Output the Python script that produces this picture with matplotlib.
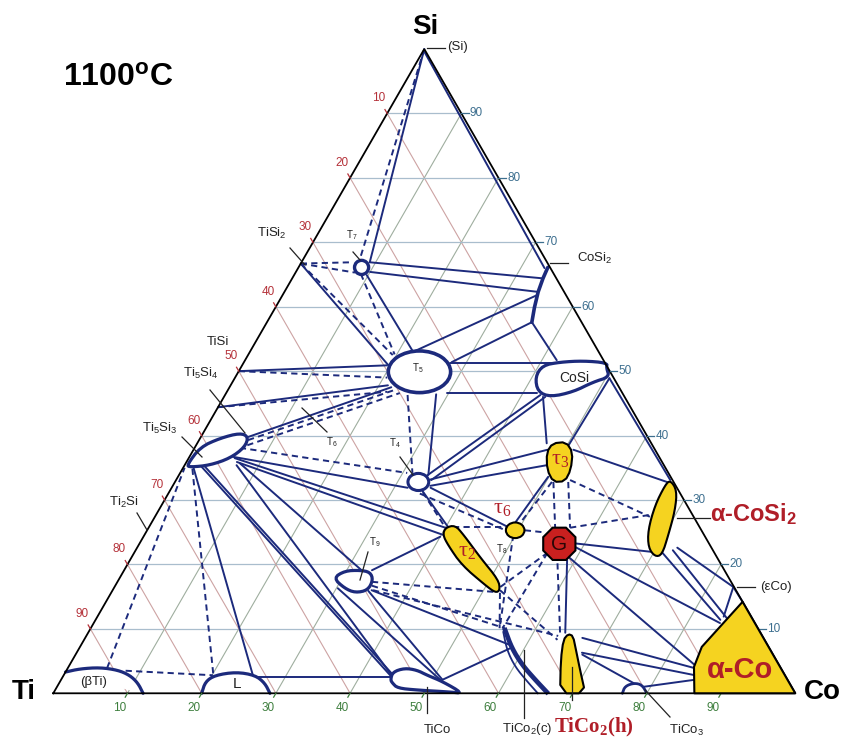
import numpy as np
import matplotlib
matplotlib.use("Agg")
import matplotlib.pyplot as plt
from matplotlib.patches import Polygon, Ellipse, RegularPolygon
from matplotlib.lines import Line2D

plt.rcParams['font.family'] = ['Liberation Sans', 'DejaVu Sans']
plt.rcParams['mathtext.fontset'] = 'custom'
plt.rcParams['mathtext.rm'] = 'Liberation Sans'
plt.rcParams['mathtext.it'] = 'Liberation Sans:italic'
plt.rcParams['mathtext.bf'] = 'Liberation Sans:bold'

# ---------------- data (compositions in at.%: Co, Si) ----------------
ticks = [10, 20, 30, 40, 50, 60, 70, 80, 90]

# solid tie lines (Co1, Si1, Co2, Si2)
ties_si_corner = [
    (0.0, 100.0, 9.2, 66.9), (0.2, 99.6, 33.2, 66.0),
    (9.2, 66.9, 33.8, 64.4), (10.0, 65.4, 34.2, 62.3),
    (22.0, 53.0, 34.3, 61.8), (28.0, 51.4, 35.7, 57.6),
    (35.7, 57.6, 42.0, 51.7), (9.8, 64.9, 22.0, 53.0),
    (0.0, 66.7, 20.1, 50.6), (0.0, 50.0, 19.5, 50.9),
    (0.0, 44.4, 21.2, 47.8), (6.4, 39.8, 21.8, 47.5),
    (27.8, 51.3, 42.7, 51.3), (29.8, 46.6, 41.9, 46.6),
]
ties_mid = [
    (28.4, 46.4, 33.6, 33.9), (5.9, 36.7, 31.8, 31.9),
    (33.4, 33.7, 42.5, 46.3), (34.4, 33.1, 43.3, 46.0),
    (34.0, 33.1, 47.7, 37.8), (34.7, 32.2, 48.8, 35.4),
    (43.0, 46.0, 47.1, 38.8), (50.5, 48.9, 50.2, 38.4),
    (34.9, 31.9, 48.4, 25.8), (33.5, 31.9, 40.2, 25.9),
    (6.2, 36.5, 40.0, 25.7), (6.8, 35.9, 40.2, 24.6),
    (49.9, 33.6, 49.0, 26.4), (7.3, 35.7, 32.0, 19.1),
    (33.4, 19.1, 40.0, 24.3),
]
ties_ti_side = [
    (2.1, 35.4, 44.0, 2.8), (2.7, 35.3, 44.3, 2.9),
    (7.0, 35.4, 44.2, 2.8), (1.1, 35.4, 25.5, 2.8),
    (25.7, 2.5, 44.4, 2.5), (30.2, 16.3, 51.1, 2.1),
    (34.5, 15.9, 51.4, 2.1), (34.9, 16.0, 57.8, 7.5),
    (51.4, 2.1, 58.1, 7.0),
]
ties_co_side = [
    (50.5, 48.9, 66.6, 33.1), (51.2, 37.8, 66.3, 32.8),
    (58.4, 23.3, 70.1, 21.9), (59.0, 22.7, 84.4, 10.9),
    (58.8, 21.2, 84.7, 4.1), (58.9, 20.7, 64.3, 9.4),
    (70.7, 22.2, 84.2, 11.4), (72.4, 22.2, 84.9, 11.7),
    (72.8, 22.6, 83.4, 16.5), (83.4, 16.5, 85.8, 14.2),
    (83.4, 16.5, 84.4, 11.9), (67.0, 8.6, 84.5, 3.9),
    (68.1, 6.3, 85.1, 2.8), (68.3, 6.0, 78.0, 1.3),
    (79.0, 1.0, 85.4, 2.1),
]
# dashed tie lines
dash_si_corner = [
    (0.0, 100.0, 7.6, 67.5), (0.0, 66.7, 6.9, 66.9),
    (0.0, 66.7, 8.0, 65.3), (0.0, 66.7, 19.5, 52.5),
    (8.9, 65.1, 19.7, 52.6), (0.0, 50.0, 20.5, 49.0),
    (0.0, 44.4, 21.6, 46.8), (6.6, 39.3, 22.5, 47.1),
    (6.9, 38.5, 23.4, 46.6),
]
dash_mid = [
    (6.1, 38.1, 30.6, 34.2), (24.6, 46.3, 31.3, 34.2),
    (34.2, 31.2, 40.0, 25.7), (33.9, 31.0, 48.3, 25.3),
    (41.0, 25.8, 48.3, 25.8), (50.9, 25.3, 53.5, 25.0),
    (51.0, 32.8, 55.0, 25.3), (53.0, 32.8, 56.8, 25.7),
    (50.8, 32.8, 49.7, 26.4), (53.1, 33.1, 66.7, 27.4),
    (56.8, 25.7, 66.6, 27.7), (52.0, 16.5, 55.7, 21.8),
]
dash_low = [
    (34.3, 17.3, 51.9, 15.7), (34.6, 16.7, 55.8, 10.1),
    (35.1, 16.0, 63.6, 8.9), (49.7, 24.6, 55.1, 10.1),
    (55.7, 21.8, 55.5, 10.1), (57.0, 21.8, 63.6, 9.4),
    (52.2, 16.0, 63.8, 8.3), (52.4, 15.6, 55.1, 10.1),
    (8.0, 3.5, 20.1, 2.8), (5.3, 3.9, 0.2, 35.0),
    (20.0, 3.1, 1.0, 35.4),
]

# phase outlines (Co, Si)
cosi2_band = [(33.6, 66.1), (33.8, 64.4), (34.2, 62.3), (34.9, 59.9), (35.7, 57.6)]
tico2c_band = [(56.0, 9.8), (58.3, 7.0), (61.0, 4.4), (63.9, 2.1), (66.4, 0.2)]
tico2c_edge = [(55.9, 9.5), (57.8, 6.7), (60.2, 4.1), (63.0, 1.8), (65.3, 0.0)]
ti5si3 = [(0.3, 35.4), (0.7, 38.2), (2.7, 39.6), (5.0, 40.4), (6.4, 39.8),
          (6.7, 38.2), (5.6, 36.5), (3.4, 35.4), (0.9, 35.1)]
cosi = [(40.4, 49.1), (40.5, 50.9), (42.6, 51.4), (45.6, 51.6), (49.0, 51.3),
        (49.3, 50.5), (50.4, 49.1), (48.6, 48.3), (46.7, 46.8), (44.0, 46.0), (41.9, 46.8)]
t9 = [(28.8, 17.9), (29.8, 19.0), (31.8, 19.1), (33.3, 18.8), (34.3, 17.6),
      (34.4, 16.0), (32.9, 15.6), (31.1, 16.3)]
beta_ti = [(0.0, 3.3), (1.7, 3.8), (4.3, 4.0), (6.9, 3.6), (8.9, 2.8), (10.6, 1.6), (12.1, 0.0)]
liquid = [(20.0, 0.0), (19.6, 1.8), (20.4, 2.8), (23.0, 3.3), (25.8, 2.8), (27.7, 1.6), (29.2, 0.0)]
tico = [(44.4, 2.1), (44.1, 3.3), (45.4, 3.9), (47.2, 3.6), (49.0, 2.8), (51.6, 1.8),
        (55.2, 0.0), (53.4, 0.2), (48.8, 0.5), (46.0, 0.8), (44.9, 1.6)]
tico3 = [(76.7, 0.0), (76.5, 1.1), (77.5, 1.6), (78.7, 1.3), (80.0, 0.0)]
t5_center = (24.4, 49.9)
t7_center = (8.5, 66.1)
t4_center = (32.8, 32.8)
tau6_center = (49.6, 25.3)
g_center = (56.6, 23.2)

tau3 = [(47.9, 38.8), (49.6, 39.0), (51.3, 37.4), (52.4, 34.7), (52.5, 32.9),
        (51.0, 32.8), (49.2, 34.7), (47.8, 37.4)]
tau2 = [(40.0, 25.7), (41.1, 26.1), (43.0, 24.6), (47.1, 21.0), (51.2, 17.6),
        (52.2, 16.0), (51.8, 15.6), (49.8, 16.8), (45.1, 19.9), (41.7, 23.0), (40.2, 24.6)]
a_cosi2 = [(66.6, 33.1), (68.3, 31.5), (69.6, 28.4), (70.6, 24.6), (71.3, 21.5),
           (70.5, 21.2), (68.9, 22.6), (67.5, 25.3), (66.5, 29.2), (66.3, 32.3)]
tico2h = [(68.3, 0.0), (65.8, 5.2), (64.6, 8.3), (64.8, 9.2), (65.6, 8.9),
          (67.1, 6.7), (69.2, 3.6), (71.7, 0.0)]
a_co = [(86.4, 0.0), (100.0, 0.0), (85.8, 14.2), (83.8, 7.2), (84.3, 4.1)]

# ---------------- styles ----------------
NAVY = '#1c2a7c'
YEL = '#f5d320'
RED = '#b01e28'
C_SI, C_TI, C_CO = '#a9bdcd', '#cda3a3', '#9fae9f'
H = np.sqrt(3) / 2


def T(co, si):
    co = np.asarray(co, float)
    si = np.asarray(si, float)
    return co + si / 2, si * H


def chaikin(P, n=2, closed=True):
    P = np.asarray(P, float)
    for _ in range(n):
        Q = []
        m = len(P)
        rng = range(m) if closed else range(m - 1)
        if not closed:
            Q.append(P[0])
        for i in rng:
            a, b = P[i], P[(i + 1) % m]
            Q.append(0.75 * a + 0.25 * b)
            Q.append(0.25 * a + 0.75 * b)
        if not closed:
            Q.append(P[-1])
        P = np.array(Q)
    return P


def xy(pts):
    pts = np.asarray(pts, float)
    x, y = T(pts[:, 0], pts[:, 1])
    return np.column_stack([x, y])


fig = plt.figure(figsize=(8.49, 7.38), dpi=100)
ax = fig.add_axes([0, 0, 1, 1])
ax.set_xlim(-7.18, 107.24)
ax.set_ylim(-6.01, 93.19)
ax.axis('off')

# grid
for k in ticks:
    x, y = T([0, 100 - k], [k, k]); ax.plot(x, y, color=C_SI, lw=0.9, zorder=1)
    x, y = T([100 - k, 0], [0, 100 - k]); ax.plot(x, y, color=C_TI, lw=0.8, zorder=1)
    x, y = T([k, k], [0, 100 - k]); ax.plot(x, y, color=C_CO, lw=0.8, zorder=1)

# triangle
x, y = T([0, 100, 0, 0], [0, 0, 100, 0])
ax.plot(x, y, color='black', lw=1.3, zorder=4, solid_joinstyle='miter')

# tick labels
for k in ticks:
    # left edge: Ti at.%
    p = T(0, 100 - k)
    ax.annotate(str(k), xy=p, xytext=(-5.8, 10.8), textcoords='offset points',
                ha='center', va='center', color='#b5323a', fontsize=8.5, zorder=6)
    d = np.array([-0.5, H]) * 0.6
    ax.plot([p[0], p[0] + d[0]], [p[1], p[1] + d[1]], color='#b5323a', lw=0.9, zorder=4)
    # right edge: Si at.%
    p = T(100 - k, k)
    ax.plot([p[0], p[0] + 1.0], [p[1], p[1]], color='#3d6f8f', lw=0.9, zorder=4)
    ax.annotate(str(k), xy=p, xytext=(6.2, 0), textcoords='offset points',
                ha='left', va='center', color='#3d6f8f', fontsize=8.5, zorder=6)
    # bottom: Co at.%
    p = T(k, 0)
    d = np.array([-0.5, -H]) * 0.6
    ax.plot([p[0], p[0] + d[0]], [p[1], p[1] + d[1]], color='#3e7f3e', lw=0.9, zorder=4)
    ax.annotate(str(k), xy=p, xytext=(-5.8, -10.8), textcoords='offset points',
                ha='center', va='center', color='#3e7f3e', fontsize=8.5, zorder=6)

# tie lines
for group in (ties_si_corner, ties_mid, ties_ti_side, ties_co_side):
    for c1, s1, c2, s2 in group:
        x, y = T([c1, c2], [s1, s2])
        ax.plot(x, y, color=NAVY, lw=1.4, zorder=2, solid_capstyle='round')
for group in (dash_si_corner, dash_mid, dash_low):
    for c1, s1, c2, s2 in group:
        x, y = T([c1, c2], [s1, s2])
        ax.plot(x, y, color=NAVY, lw=1.4, zorder=2, dashes=(3.2, 2.2))

# line compounds / bands
P = xy(cosi2_band); ax.plot(P[:, 0], P[:, 1], color=NAVY, lw=2.6, zorder=3, solid_capstyle='round')
P = chaikin(xy(tico2c_band), 2, closed=False); ax.plot(P[:, 0], P[:, 1], color=NAVY, lw=3.4, zorder=3)
P = chaikin(xy(tico2c_edge), 2, closed=False); ax.plot(P[:, 0], P[:, 1], color=NAVY, lw=1.3, zorder=3)


def oval_poly(pts, lw=2.3, smooth=2):
    P = chaikin(xy(pts), smooth)
    ax.add_patch(Polygon(P, closed=True, fc='white', ec=NAVY, lw=lw, zorder=3, joinstyle='round'))


def dome(pts, lw=2.3):
    P = chaikin(xy(pts), 2, closed=False)
    ax.fill(P[:, 0], P[:, 1], color='white', zorder=3)
    ax.plot(P[:, 0], P[:, 1], color=NAVY, lw=lw, zorder=3, solid_capstyle='round')


oval_poly(ti5si3)
oval_poly(cosi)
oval_poly(t9)
oval_poly(tico)
dome(beta_ti)
dome(liquid)
dome(tico3, lw=2.0)
ax.add_patch(Ellipse(T(*t5_center), 8.4, 5.6, fc='white', ec=NAVY, lw=2.6, zorder=3))
ax.add_patch(Ellipse(T(*t7_center), 1.9, 1.9, fc='white', ec=NAVY, lw=2.4, zorder=3))
ax.add_patch(Ellipse(T(*t4_center), 2.8, 2.3, fc='white', ec=NAVY, lw=2.2, zorder=3))

# yellow phases
for shp, sm in ((tau3, 1), (tau2, 2), (a_cosi2, 2), (tico2h, 1)):
    P = chaikin(xy(shp), sm)
    ax.add_patch(Polygon(P, closed=True, fc=YEL, ec='black', lw=1.5, zorder=4, joinstyle='round'))
ax.add_patch(Polygon(xy(a_co), closed=True, fc=YEL, ec='black', lw=1.5, zorder=4, joinstyle='round'))
ax.add_patch(Ellipse(T(*tau6_center), 2.5, 2.1, fc=YEL, ec='black', lw=1.5, zorder=4))
ax.add_patch(RegularPolygon(T(*g_center), 8, radius=2.35, orientation=np.pi / 8,
                            fc='#c9201f', ec='black', lw=1.5, zorder=4))


# ---------------- text & leaders (figure pixel layout) ----------------
def ftxt(x, y, s, ha='center', **kw):
    fig.text(x / 849, 1 - y / 738, s, ha=ha, va='center', zorder=7, **kw)


def lead(p, q, color='#222222', lw=0.9):
    fig.add_artist(Line2D([p[0] / 849, q[0] / 849], [1 - p[1] / 738, 1 - q[1] / 738],
                          transform=fig.transFigure, color=color, lw=lw, zorder=6))


ftxt(118, 78, r'1100$^\mathregular{o}$C', fontsize=23, fontweight='bold')
ftxt(425, 27, 'Si', fontsize=20, fontweight='bold')
ftxt(24, 692, 'Ti', fontsize=20, fontweight='bold')
ftxt(822, 692, 'Co', fontsize=20, fontweight='bold')

K = '#222222'
ftxt(447, 47, '(Si)', ha='left', fontsize=9.5, color=K)
ftxt(577, 258, r'CoSi$_\mathregular{2}$', ha='left', fontsize=9.5, color=K)
ftxt(272, 233, r'TiSi$_\mathregular{2}$', fontsize=9.5, color=K)
ftxt(218, 342, 'TiSi', fontsize=9.5, color=K)
ftxt(201, 373, r'Ti$_\mathregular{5}$Si$_\mathregular{4}$', fontsize=9.5, color=K)
ftxt(160, 428, r'Ti$_\mathregular{5}$Si$_\mathregular{3}$', fontsize=9.5, color=K)
ftxt(124, 502, r'Ti$_\mathregular{2}$Si', fontsize=9.5, color=K)
ftxt(94, 682, '(βTi)', fontsize=9.5, color=K)
ftxt(237, 684, 'L', fontsize=11, color=K)
ftxt(437, 730, 'TiCo', fontsize=9.5, color=K)
ftxt(527, 729, r'TiCo$_\mathregular{2}$(c)', fontsize=9.5, color=K)
ftxt(686, 730, r'TiCo$_\mathregular{3}$', fontsize=9.5, color=K)
ftxt(760, 587, '(εCo)', ha='left', fontsize=9.5, color=K)
ftxt(574, 378, 'CoSi', fontsize=10, color=K)
for (xx, yy, sub) in ((352, 235, '7'), (418, 368, '5'), (332, 442, '6'),
                      (395, 443, '4'), (375, 542, '9'), (502, 549, '8')):
    ftxt(xx, yy, r'T$_\mathregular{%s}$' % sub, fontsize=7, color=K)

SER = ['Liberation Serif', 'DejaVu Serif']
ftxt(560, 461, r'τ$_\mathregular{3}$', fontsize=16, color=RED, family=SER)
ftxt(502, 509, r'τ$_\mathregular{6}$', fontsize=16, color=RED, family=SER)
ftxt(467, 552, r'τ$_\mathregular{2}$', fontsize=16, color=RED, family=SER)
ftxt(559, 544, 'G', fontsize=15, color='#2a0606')
ftxt(710, 514, r'α-CoSi$_\mathregular{2}$', ha='left', fontsize=17, fontweight='bold', color=RED)
ftxt(740, 670, 'α-Co', fontsize=21, fontweight='bold', color=RED)
ftxt(594, 727, r'TiCo$_\mathregular{2}$(h)', fontsize=15, fontweight='bold', color=RED, family=SER)

for p, q in (((427, 48), (445, 48)), ((550, 263), (568, 263)), ((290, 248), (305, 265)),
             ((210, 390), (245, 433)), ((182, 437), (202, 457)), ((137, 513), (147, 530)),
             ((353, 252), (360, 260)), ((302, 408), (327, 432)), ((400, 457), (413, 475)),
             ((368, 552), (360, 580)), ((427, 687), (427, 713)), ((524, 650), (524, 718)),
             ((572, 667), (572, 700)), ((645, 690), (670, 717)), ((737, 587), (755, 587)),
             ((677, 518), (710, 518))):
    lead(p, q)

fig.savefig('out.png', dpi=100)
